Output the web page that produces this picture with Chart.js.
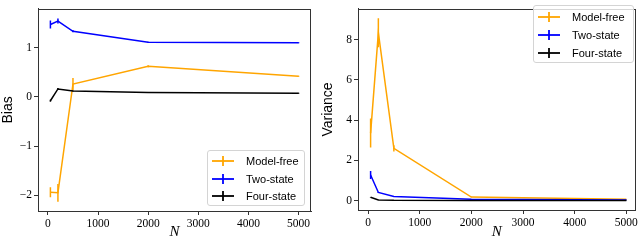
<!DOCTYPE html>
<html>
<head>
<meta charset="utf-8">
<script src="https://cdn.jsdelivr.net/npm/chart.js@4.4.1/dist/chart.umd.min.js"></script>
<style>
    body { margin: 0; background: #fff; width: 640px; height: 241px; overflow: hidden; position: relative; }
    .panel { position: absolute; top: 0; width: 320px; height: 241px; }
    .legend { position: absolute; box-sizing: border-box; border: 1px solid #d4d4d4; border-radius: 3px;
              background: rgba(255,255,255,0.8); font-family: "Liberation Sans", sans-serif; font-size: 11px; color: #000; }
    .row { position: absolute; left: 0; width: 100%; height: 0; }
    .hline { position: absolute; left: 4px; width: 22px; height: 2px; top: -1px; opacity: 0.9; }
    .vline { position: absolute; left: 14px; width: 2px; height: 10px; top: -5px; opacity: 0.9; }
    .label { position: absolute; left: 38px; top: -7px; line-height: 14px; white-space: nowrap; }
</style>
</head>
<body>
<canvas id="biasChart" class="panel" width="320" height="241" style="left:0"></canvas>
<canvas id="varChart" class="panel" width="320" height="241" style="left:320px"></canvas>
<div id="biasLegend" class="legend" style="left:207px; top:150px; width:98px; height:56px"></div>
<div id="varLegend" class="legend" style="left:533px; top:5px; width:101px; height:58px"></div>
<script>
// Sample sizes and ticks
const nValues = [50, 200, 500, 2000, 5000];
const xTicks = [0, 1000, 2000, 3000, 4000, 5000];
const biasTicks = [-2, -1, 0, 1];
const varTicks = [0, 2, 4, 6, 8];

const seriesNames = ['Model-free', 'Two-state', 'Four-state'];
const seriesColors = ['#ffa500', '#0000ff', '#000000'];

// Bias (mean and error half-width)
const biasModelFree = [-1.94, -1.95, 0.26, 0.62, 0.42];
const biasModelFreeErr = [0.10, 0.18, 0.12, 0.02, 0.01];
const biasTwoState = [1.47, 1.54, 1.33, 1.11, 1.10];
const biasTwoStateErr = [0.08, 0.05, 0.02, 0.01, 0.01];
const biasFourState = [-0.08, 0.16, 0.12, 0.09, 0.07];
const biasFourStateErr = [0.02, 0.02, 0.01, 0.01, 0.01];

// Variance (mean and error half-width)
const varModelFree = [3.36, 8.35, 2.6, 0.18, 0.07];
const varModelFreeErr = [0.72, 0.72, 0.16, 0.01, 0.01];
const varTwoState = [1.28, 0.41, 0.21, 0.07, 0.04];
const varTwoStateErr = [0.2, 0.02, 0.01, 0.005, 0.005];
const varFourState = [0.17, 0.04, 0.02, 0.01, 0.01];
const varFourStateErr = [0.01, 0.005, 0.005, 0.005, 0.005];

// Vertical error bars, drawn right after each dataset's line
const errorBars = {
    id: 'errorBars',
    afterDatasetDraw(chart, args) {
        const ds = chart.data.datasets[args.index];
        if (!ds.errors) return;
        const { ctx, scales: { x, y } } = chart;
        ctx.save();
        ctx.strokeStyle = ds.borderColor;
        ctx.lineWidth = 1.5;
        ctx.beginPath();
        ds.data.forEach((p, i) => {
            const px = x.getPixelForValue(p.x);
            ctx.moveTo(px, y.getPixelForValue(p.y - ds.errors[i]));
            ctx.lineTo(px, y.getPixelForValue(p.y + ds.errors[i]));
        });
        ctx.stroke();
        ctx.restore();
    }
};

// Full box around the axes
const frame = {
    id: 'frame',
    afterDraw(chart) {
        const { ctx, chartArea: a } = chart;
        ctx.save();
        ctx.strokeStyle = '#333';
        ctx.lineWidth = 1;
        ctx.strokeRect(Math.round(a.left) + 0.5, Math.round(a.top) + 0.5,
                       Math.round(a.right - a.left) - 1, Math.round(a.bottom - a.top));
        ctx.restore();
    }
};

function minus(v) {
    return v < 0 ? '\u2212' + Math.abs(v) : String(v);
}

function makeChart(id, values, errors, yTicks, yMin, yMax, xMin, xMax, yTitle, pad, axisH) {
    const datasets = values.map((vals, k) => ({
        label: seriesNames[k],
        data: nValues.map((n, i) => ({ x: n, y: vals[i] })),
        errors: errors[k],
        borderColor: seriesColors[k],
        backgroundColor: seriesColors[k],
        borderWidth: 1.5,
        pointRadius: 0,
        tension: 0,
        order: 3 - k
    }));

    new Chart(document.getElementById(id).getContext('2d'), {
        type: 'line',
        data: { datasets: datasets },
        plugins: [errorBars, frame],
        options: {
            responsive: false,
            animation: false,
            layout: { padding: pad },
            plugins: { legend: { display: false }, tooltip: { enabled: false } },
            scales: {
                x: {
                    type: 'linear',
                    min: xMin,
                    max: xMax,
                    afterBuildTicks: axis => { axis.ticks = xTicks.map(v => ({ value: v })); },
                    afterFit: axis => { axis.height = axisH; },
                    ticks: {
                        font: { family: 'Liberation Serif', size: 11.5 },
                        color: '#000', padding: 2, maxRotation: 0, autoSkip: false,
                        callback: v => String(v)
                    },
                    grid: { drawOnChartArea: false, tickLength: 4, tickColor: '#333' },
                    border: { display: true, color: '#333', width: 1 },
                    title: {
                        display: true, text: 'N', color: '#000', padding: 0,
                        font: { family: 'Liberation Serif', size: 15, style: 'italic' }
                    }
                },
                y: {
                    type: 'linear',
                    min: yMin,
                    max: yMax,
                    afterBuildTicks: axis => { axis.ticks = yTicks.map(v => ({ value: v })); },
                    afterFit: axis => { axis.width = 38; },
                    ticks: {
                        font: { family: 'Liberation Serif', size: 11.5 },
                        color: '#000', padding: 2,
                        callback: v => minus(v)
                    },
                    grid: { drawOnChartArea: false, tickLength: 4, tickColor: '#333' },
                    border: { display: true, color: '#333', width: 1 },
                    title: {
                        display: true, text: yTitle, color: '#000', padding: 0,
                        font: { family: 'Liberation Sans', size: 14 }
                    }
                }
            }
        }
    });
}

function makeLegend(id, firstRow, rowGap) {
    const box = document.getElementById(id);
    seriesNames.forEach((name, k) => {
        const row = document.createElement('div');
        row.className = 'row';
        row.style.top = Math.round(firstRow + k * rowGap) + 'px';
        row.innerHTML = `
            <div class="hline" style="background:${seriesColors[k]}"></div>
            <div class="vline" style="background:${seriesColors[k]}"></div>
            <span class="label">${name}</span>
        `;
        box.appendChild(row);
    });
}

makeChart('biasChart',
    [biasModelFree, biasTwoState, biasFourState],
    [biasModelFreeErr, biasTwoStateErr, biasFourStateErr],
    biasTicks, -2.32, 1.786, -197.5, 5247.5, 'Bias',
    { top: 7, right: 9, left: 0, bottom: 0 }, 30);

makeChart('varChart',
    [varModelFree, varTwoState, varFourState],
    [varModelFreeErr, varTwoStateErr, varFourStateErr],
    varTicks, -0.46, 9.53, -194, 5180, 'Variance',
    { top: 1, right: 4, left: 0, bottom: 0 }, 31);

makeLegend('biasLegend', 10, 17.5);
makeLegend('varLegend', 11, 18);
</script>
</body>
</html>
